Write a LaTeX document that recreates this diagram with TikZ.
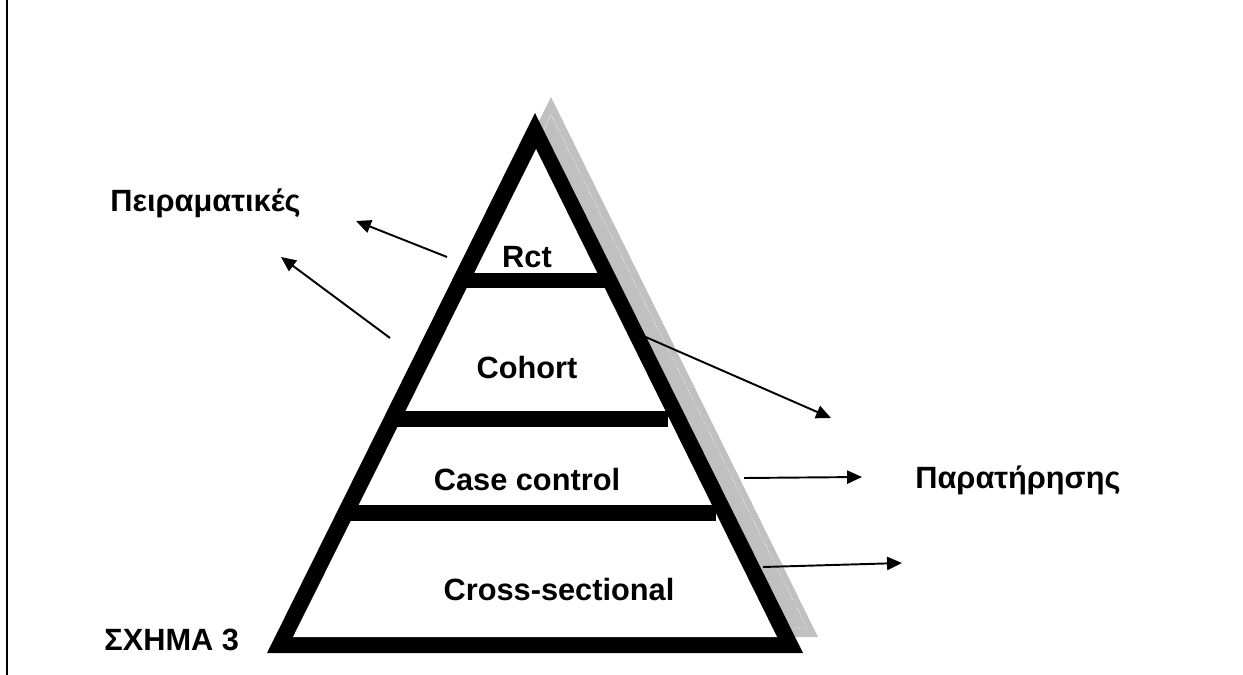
\documentclass[tikz,border=0pt]{standalone}
\usepackage{fontspec}
\setmainfont{Liberation Sans}
\usetikzlibrary{arrows.meta}
\definecolor{shadowgray}{HTML}{C0C0C0}
\tikzset{
  lbl/.style  = {font=\fontsize{17.5}{20}\selectfont\bfseries, inner sep=0pt, anchor=base},
  ptr/.style  = {-{Triangle[length=8.5pt,width=7.5pt]}, line width=1.1pt},
  tier/.style = {fill=black},
}

\begin{document}
\begin{tikzpicture}[x=0.02cm,y=-0.02cm]
\useasboundingbox (0,0) rectangle (1243,675);
\draw[line width=1.2pt] (7,0) -- (7,675);
% shadow behind the pyramid
\fill[shadowgray] (551,97) -- (818,637) -- (283,637) -- cycle;
\draw[white,line width=0.4pt,densely dotted] (551,115) -- (807,628) -- (295,628) -- cycle;
% pyramid frame and tiers
\fill[black] (535,113) -- (803,653) -- (267,653) -- cycle;
\fill[white] (536,149) -- (777,637) -- (293,637) -- cycle;
\fill[tier] (460,273) rectangle (606,288);
\fill[tier] (395,411) rectangle (668,427);
\fill[tier] (345,505) rectangle (716,521);
\node[lbl] (rct) at (527,268) {Rct};
\node[lbl] (cohort) at (527,378) {Cohort};
\node[lbl] (casectl) at (527,490) {Case control};
\node[lbl] (cross) at (559,600) {Cross-sectional};
\node[lbl,anchor=base west] (peir) at (110,212) {Πειραματικές};
\node[lbl,anchor=base west] (parat) at (915,488) {Παρατήρησης};
\node[lbl,anchor=base west] (schema) at (104,650) {ΣΧΗΜΑ 3};
% arrows
\coordinate (e1) at (447,257); \coordinate (t1) at (356,221);
\coordinate (e2) at (390,338); \coordinate (t2) at (281,257);
\coordinate (e3) at (625,328); \coordinate (t3) at (831,418);
\coordinate (e4) at (744,478); \coordinate (t4) at (862,477);
\coordinate (e5) at (763,567); \coordinate (t5) at (902,563);
\draw[ptr] (e1) -- (t1);
\draw[ptr] (e2) -- (t2);
\draw[ptr] (e3) -- (t3);
\draw[ptr] (e4) -- (t4);
\draw[ptr] (e5) -- (t5);
\end{tikzpicture}
\end{document}
